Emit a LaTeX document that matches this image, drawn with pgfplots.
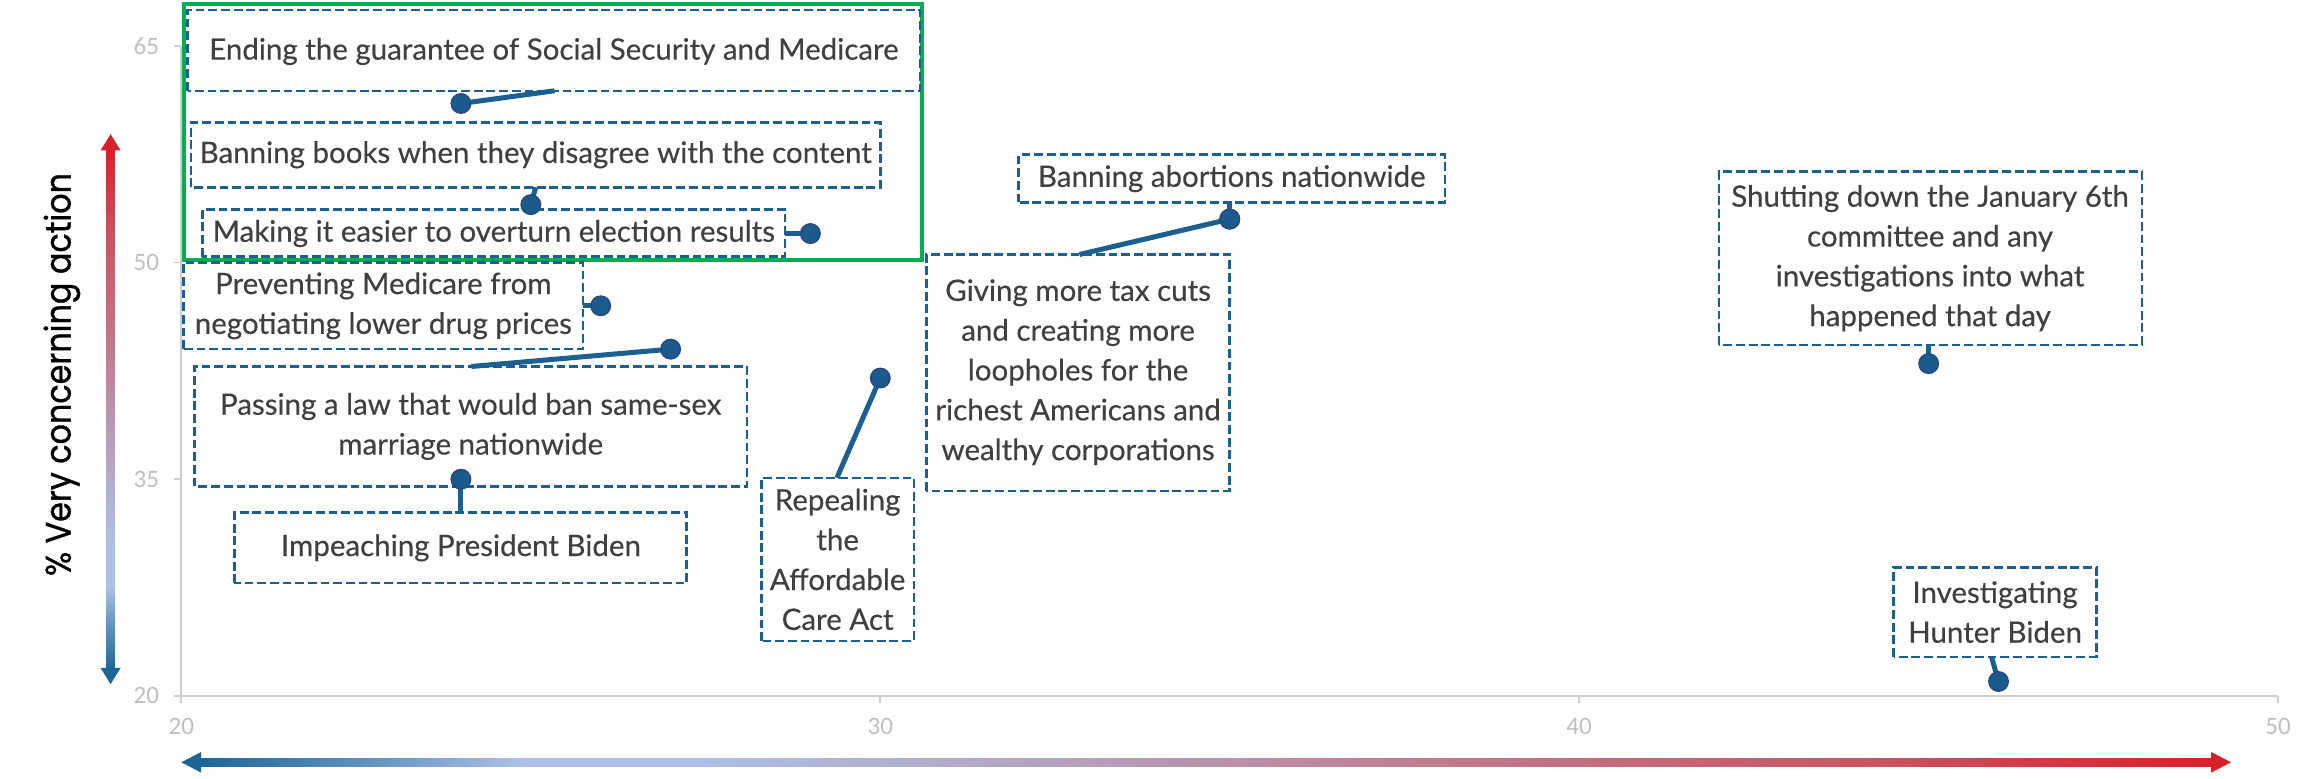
\documentclass[border=0pt]{standalone}
\usepackage{pgfplots}
\pgfplotsset{compat=1.18}
\usepackage{fontspec}
\setmainfont[FakeBold=0.35]{Lato}
\newfontfamily\tickfont{Carlito}
\newfontfamily\ylabfont[FakeBold=1.0]{Poppins}
\definecolor{labtext}{HTML}{404040}
\definecolor{boxblue}{HTML}{1B6090}
\definecolor{dotblue}{HTML}{1A5A8C}
\definecolor{dotedge}{HTML}{2B4A7C}
\definecolor{greenbox}{HTML}{00B050}
\definecolor{tickgray}{HTML}{BFBFBF}
\definecolor{axisgray}{HTML}{CFCFCF}
\definecolor{gB}{HTML}{1B6696}
\definecolor{gMB}{HTML}{5E90BE}
\definecolor{gLB}{HTML}{ADC1E6}
\definecolor{gLav}{HTML}{B1B0D2}
\definecolor{gMau}{HTML}{B89BB6}
\definecolor{gPink}{HTML}{C17688}
\definecolor{gRP}{HTML}{CB5260}
\definecolor{gR}{HTML}{D7212A}
\pgfdeclarehorizontalshading{hgrad}{100bp}{color(0bp)=(gB); color(25bp)=(gB); color(29bp)=(gMB); color(33bp)=(gLB); color(37bp)=(gLB); color(42bp)=(gLav); color(48bp)=(gMau); color(57bp)=(gPink); color(67bp)=(gRP); color(75bp)=(gR); color(100bp)=(gR)}
\pgfdeclareverticalshading{vgrad}{100bp}{color(0bp)=(gB); color(25bp)=(gB); color(29bp)=(gMB); color(33bp)=(gLB); color(37bp)=(gLB); color(42bp)=(gLav); color(48bp)=(gMau); color(57bp)=(gPink); color(67bp)=(gRP); color(75bp)=(gR); color(100bp)=(gR)}
\tikzset{
  boxst/.style={draw=boxblue, line width=0.85pt, dash pattern=on 3pt off 1.3pt},
  labst/.style={text=labtext, align=center, font=\fontsize{10}{13.5}\selectfont, inner sep=0pt},
  leadst/.style={draw=boxblue, line width=1.7pt},
}
\begin{document}
\begin{tikzpicture}
% vertical gradient arrow
\shade[shading=vgrad] (36.1pt,37pt) rectangle (38.9pt,213.5pt);
\fill[gR] (34.1pt,213pt) -- (37.5pt,218.5pt) -- (40.9pt,213pt) -- cycle;
\fill[gB] (34.1pt,37.5pt) -- (37.5pt,32pt) -- (40.9pt,37.5pt) -- cycle;
% horizontal gradient arrow
\shade[shading=hgrad] (68pt,4.1pt) rectangle (750pt,6.9pt);
\fill[gB] (68.2pt,2pt) -- (61.5pt,5.5pt) -- (68.2pt,9pt) -- cycle;
\fill[gR] (749.8pt,2pt) -- (756.5pt,5.5pt) -- (749.8pt,9pt) -- cycle;
% y label
\node[rotate=90, text=black, inner sep=0pt] at (21pt,137pt) {\scalebox{0.9}[1]{\ylabfont\fontsize{12}{14}\selectfont \% Very concerning action}};
\begin{axis}[
  set layers,
  at={(61.5pt,28pt)}, anchor=south west,
  scale only axis, width=711pt, height=220.5pt,
  xmin=20, xmax=50, ymin=20, ymax=65,
  xtick={20,30,40,50}, ytick={20,35,50,65},
  axis x line*=bottom, axis y line*=left,
  axis line style={draw=axisgray, line width=0.6pt},
  tick style={draw=axisgray, line width=0.6pt},
  tick align=outside, major tick length=2.5pt,
  ticklabel style={font=\tickfont\fontsize{8.5}{10}\selectfont, text=tickgray},
  /pgf/number format/assume math mode=true,
  xticklabel style={yshift=-1.5pt},
  yticklabel style={xshift=-1.5pt},
  clip=false,
]
% green highlight box
\draw[greenbox, line width=1.3pt] (axis cs:20.04,50.16) rectangle (axis cs:30.6,67.9);
% leader lines
\draw[leadst] (axis cs:24,61) -- (axis cs:25.34,61.88);
\draw[leadst] (axis cs:25,54) -- (axis cs:25.07,55.2);
\draw[leadst] (axis cs:29,52) -- (axis cs:28.64,52);
\draw[leadst] (axis cs:26,47) -- (axis cs:25.75,47);
\draw[leadst] (axis cs:27,44) -- (axis cs:24.15,42.8);
\draw[leadst] (axis cs:24,35) -- (axis cs:24,32.7);
\draw[leadst] (axis cs:30,42) -- (axis cs:29.38,35.1);
\draw[leadst] (axis cs:35,53) -- (axis cs:35,54.15);
\draw[leadst] (axis cs:35,53) -- (axis cs:32.85,50.55);
\draw[leadst] (axis cs:45,43) -- (axis cs:45,44.3);
\draw[leadst] (axis cs:46,21) -- (axis cs:45.9,22.7);
% label boxes
\draw[boxst] (axis cs:20.09,61.88) rectangle (axis cs:30.57,67.47);
\node[labst] at (axis cs:25.33,64.6) {Ending the guarantee of Social Security and Medicare};
\draw[boxst] (axis cs:20.14,55.2) rectangle (axis cs:30.0,59.7);
\node[labst] at (axis cs:25.07,57.45) {Banning books when they disagree with the content};
\draw[boxst] (axis cs:20.3,50.4) rectangle (axis cs:28.64,53.66);
\node[labst] at (axis cs:24.47,52.0) {Making it easier to overturn election results};
\draw[boxst] (axis cs:20.03,44.0) rectangle (axis cs:25.75,50.0);
\node[labst] at (axis cs:22.89,47.0) {Preventing Medicare from\\negotiating lower drug prices};
\draw[boxst] (axis cs:20.19,34.5) rectangle (axis cs:28.09,42.8);
\node[labst] at (axis cs:24.14,38.65) {Passing a law that would ban same-sex\\marriage nationwide};
\draw[boxst] (axis cs:20.76,27.8) rectangle (axis cs:27.23,32.7);
\node[labst] at (axis cs:24.0,30.25) {Impeaching President Biden};
\draw[boxst] (axis cs:28.3,23.8) rectangle (axis cs:30.48,35.1);
\node[labst] at (axis cs:29.39,29.45) {Repealing\\the\\Affordable\\Care Act};
\draw[boxst] (axis cs:31.98,54.15) rectangle (axis cs:38.08,57.46);
\node[labst] at (axis cs:35.03,55.8) {Banning abortions nationwide};
\draw[boxst] (axis cs:30.66,34.2) rectangle (axis cs:35.0,50.55);
\node[labst] at (axis cs:32.83,42.4) {Giving more tax cuts\\and creating more\\loopholes for the\\richest Americans and\\wealthy corporations};
\draw[boxst] (axis cs:42.0,44.3) rectangle (axis cs:48.05,56.3);
\node[labst] at (axis cs:45.02,50.3) {Shutting down the January 6th\\committee and any\\investigations into what\\happened that day};
\draw[boxst] (axis cs:44.5,22.7) rectangle (axis cs:47.4,28.9);
\node[labst] at (axis cs:45.95,25.8) {Investigating\\Hunter Biden};
% data points
\addplot[on layer=axis foreground, only marks, mark=*, mark size=3.3pt,
  mark options={fill=dotblue, draw=dotedge, line width=0.5pt}]
  coordinates {(24,61) (25,54) (29,52) (26,47) (27,44) (24,35) (30,42) (35,53) (35,53) (45,43) (46,21)};
\end{axis}
\pgfresetboundingbox
\useasboundingbox (0,0) rectangle (784pt,264pt);
\end{tikzpicture}
\end{document}
